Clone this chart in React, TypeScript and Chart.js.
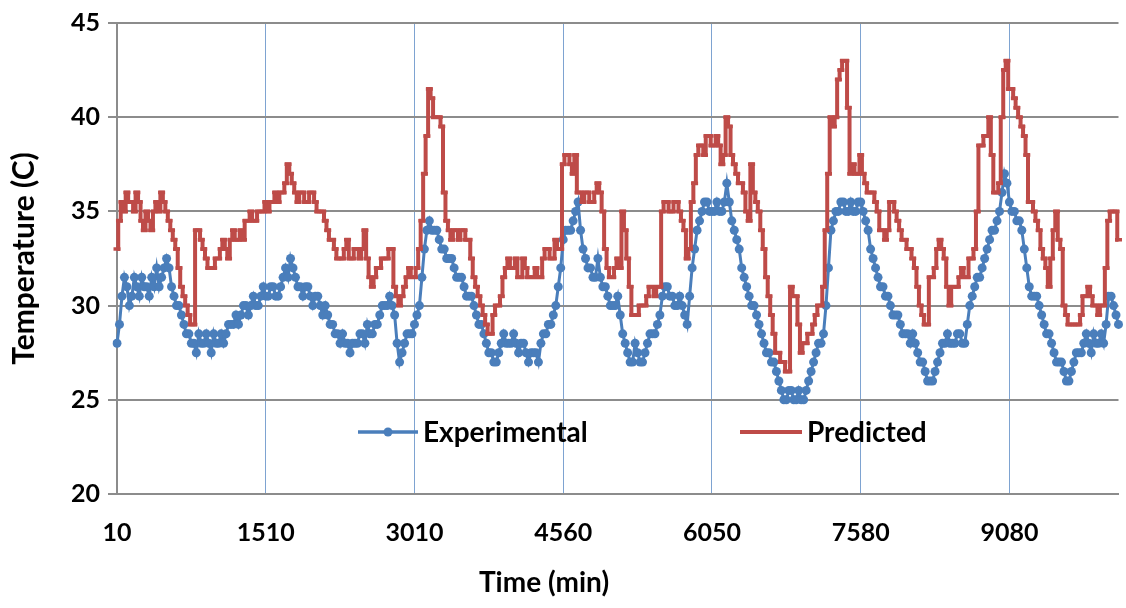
import React, { useEffect, useRef } from 'react';
import { Chart, registerables } from 'chart.js';

Chart.register(...registerables);

// x-axis tick labels (time in minutes), one every `pointsPerLabel` samples
const tickLabels = ['10', '1510', '3010', '4560', '6050', '7580', '9080'];
const pointsPerLabel = 60;

// Experimental temperature (C)
const experimental = [
  28, 29, 30.5, 31.5, 31, 30, 30.5, 31.5, 31, 30.5,
  31.5, 31, 31, 30.5, 31.5, 31, 32, 31, 31.5, 32,
  32.5, 32, 31, 30.5, 30, 30, 29.5, 29, 28.5, 28.5,
  28, 28, 27.5, 28.5, 28, 28, 28.5, 28, 27.5, 28.5,
  28, 28, 28.5, 28, 28.5, 29, 29, 29, 29.5, 29,
  29.5, 30, 30, 29.5, 30, 30.5, 30, 30, 30.5, 31,
  30.5, 30.5, 31, 31, 30.5, 30.5, 31, 31.5, 32, 31.5,
  32.5, 32, 31.5, 31, 31, 30.5, 31, 31, 30.5, 30,
  30.5, 30.5, 30, 29.5, 30, 29.5, 29, 29, 28.5, 28.5,
  28, 28.5, 28, 28, 27.5, 28, 28, 28, 28.5, 28.5,
  28, 29, 28.5, 28.5, 29, 29, 29.5, 30, 30, 30,
  30.5, 30, 29.5, 28, 27, 27.5, 28, 28.5, 28.5, 28.5,
  29, 29.5, 30, 31.5, 33, 34, 34.5, 34, 34, 34,
  33.5, 33, 33, 32.5, 32.5, 32.5, 32, 31.5, 31.5, 31.5,
  31, 30.5, 30.5, 30.5, 30, 29.5, 29, 29, 28.5, 28,
  27.5, 27.5, 27, 27, 27.5, 28, 28.5, 28, 28, 28,
  28.5, 28, 27.5, 28, 28, 27.5, 27, 27.5, 27.5, 27.5,
  27, 28, 28.5, 28.5, 29, 29, 29.5, 30, 31, 32,
  33.5, 34, 34, 34, 34.5, 35, 35.5, 34, 33, 32.5,
  32, 32, 31.5, 31.5, 32.5, 31.5, 31, 31, 30.5, 30,
  30, 30, 30.5, 29.5, 28.5, 28, 27.5, 27, 27, 28,
  27.5, 27, 27, 27.5, 28, 28.5, 28.5, 28.5, 29, 29.5,
  30.5, 31, 31, 30.5, 30.5, 30, 30, 30.5, 30, 29.5,
  29, 30.5, 32, 33, 34, 34.5, 35, 35.5, 35.5, 35,
  35, 35, 35.5, 35, 35, 35.5, 36.5, 35.5, 34.5, 34,
  33.5, 33, 32, 31.5, 31, 30.5, 30, 30, 29.5, 29,
  28.5, 28, 27.5, 27.5, 27, 27, 26.5, 26, 25.5, 25,
  25, 25.5, 25.5, 25, 25, 25.5, 25, 25, 25.5, 26,
  26.5, 27, 27.5, 28, 28, 28.5, 30, 32, 34, 34.5,
  35, 35, 35.5, 35.5, 35, 35, 35.5, 35, 35, 35.5,
  35.5, 35, 34.5, 34, 33, 32.5, 32, 31.5, 31, 31,
  30.5, 30.5, 30, 29.5, 29.5, 29.5, 29, 28.5, 28.5, 28.5,
  28, 28.5, 28, 27.5, 27, 27, 26.5, 26, 26, 26,
  26.5, 27, 27.5, 28, 28, 28.5, 28, 28, 28, 28.5,
  28.5, 28, 28, 29, 30, 30.5, 31, 31.5, 31.5, 32,
  32.5, 33, 33.5, 34, 34, 34.5, 35, 36, 37, 36.5,
  35.5, 35, 35, 34.5, 34.5, 34, 33, 32, 31, 30.5,
  30.5, 30.5, 30, 29.5, 29, 28.5, 28.5, 28, 27.5, 27,
  27, 27, 26.5, 26, 26, 26.5, 27, 27.5, 27.5, 27.5,
  28, 28.5, 28, 27.5, 28.5, 28, 28, 28.5, 28, 29,
  30.5, 30.5, 30, 29.5, 29,
];

// Predicted temperature (C)
const predicted = [
  33, 34.5, 35.5, 35, 36, 35.5, 35.5, 35, 36, 35.5,
  34.5, 34, 35, 34.5, 34, 35, 35.5, 35, 36, 35.5,
  35, 34.5, 34, 33.5, 33, 32, 31, 30.5, 30, 29.5,
  29, 29, 34, 34, 33.5, 33, 32.5, 32, 32, 32,
  32.5, 32.5, 33, 33.5, 33, 32.5, 33.5, 34, 33.5, 33.5,
  34, 33.5, 34.5, 34.5, 35, 34.5, 34.5, 35, 35, 35,
  35.5, 35, 35.5, 35.5, 36, 35.5, 36, 36, 36.5, 37.5,
  37, 36.5, 36, 35.5, 36, 36, 35.5, 35.5, 36, 36,
  35.5, 35, 35, 35, 34.5, 34, 33.5, 33.5, 33, 32.5,
  32.5, 32.5, 33, 33.5, 32.5, 32.5, 33, 33, 32.5, 33,
  34, 32.5, 31.5, 31, 31.5, 32, 32, 32.5, 32.5, 32.5,
  33, 33, 31, 30.5, 30, 30.5, 31, 31.5, 32, 31.5,
  31.5, 32, 33, 34.5, 37, 39, 41.5, 41, 40, 40,
  40, 39.5, 36, 34.5, 34, 33.5, 34, 34, 33.5, 34,
  34, 33.5, 33.5, 32.5, 31.5, 31, 30.5, 30, 29.5, 29,
  28.5, 28.5, 29.5, 30, 30, 30.5, 31.5, 32, 32.5, 32,
  32, 32.5, 31.5, 31.5, 32.5, 32, 31.5, 31.5, 31.5, 32,
  31.5, 31.5, 32.5, 33, 33, 32.5, 32.5, 33.5, 33, 33,
  37.5, 38, 38, 37.5, 37, 38, 36, 36, 35.5, 36,
  36, 35.5, 35.5, 36, 36.5, 36, 35, 33, 32, 31.5,
  31.5, 32, 32.5, 32, 35, 34, 32.5, 31, 29.5, 29.5,
  29.5, 30, 30, 30, 30.5, 31, 31, 30.5, 31, 31,
  35, 35.5, 35.5, 35, 35, 35.5, 35.5, 35, 34.5, 34,
  32.5, 33, 35.5, 36.5, 38, 38.5, 38.5, 38, 39, 39,
  38.5, 38.5, 39, 38.5, 37.5, 38, 40, 39.5, 38, 37.5,
  37, 36.5, 36.5, 36, 35, 34.5, 37.5, 36, 35.5, 35,
  34, 33, 31.5, 30.5, 29.5, 28.5, 27.5, 27.5, 27, 27,
  26.5, 26.5, 31, 30.5, 30.5, 29, 27.5, 28, 28, 28.5,
  28.5, 29, 29.5, 30, 30, 31, 34, 37, 40, 39.5,
  40, 42, 42.5, 43, 43, 40.5, 37, 37.5, 37, 37,
  38, 37, 36.5, 36, 36, 36, 35.5, 35, 34, 34,
  33.5, 34, 35.5, 35.5, 35, 34.5, 34, 33.5, 33.5, 33,
  33, 32.5, 32, 31, 30, 29.5, 29, 29, 31.5, 31.5,
  32, 33, 33.5, 33, 32.5, 31, 30, 31, 31, 31,
  31.5, 32, 31.5, 31.5, 32.5, 32.5, 33, 35, 38.5, 38.5,
  39, 39, 40, 38, 36, 36, 36.5, 40, 42.5, 43,
  41.5, 41.5, 41, 40.5, 40, 39.5, 39, 38, 35.5, 35.5,
  35, 34.5, 34, 33, 32.5, 32, 31, 32.5, 34, 35,
  33.5, 33, 30, 29.5, 29, 29, 29, 29, 29, 29.5,
  30.5, 30.5, 31, 30.5, 30, 30, 29.5, 30, 30, 32,
  34.5, 35, 35, 35, 33.5,
];

const BLUE = '#4a7ebb';
const RED = '#be4b48';
const GRID = '#8c8c8c';
const VGRID = '#7ea3d1';
const FONT = 'Lato';

export default function App() {
  const canvasRef = useRef<HTMLCanvasElement>(null);

  useEffect(() => {
    if (!canvasRef.current) return;
    const labels = experimental.map((_, i) =>
      i % pointsPerLabel === 0 && tickLabels[i / pointsPerLabel] !== undefined
        ? tickLabels[i / pointsPerLabel]
        : ''
    );

    const overlay = {
      id: 'overlay',
      afterDraw(chart: any) {
        const ctx = chart.ctx as CanvasRenderingContext2D;
        ctx.save();
        ctx.font = `bold 28px ${FONT}`;
        ctx.fillStyle = '#000';
        ctx.textBaseline = 'middle';
        ctx.textAlign = 'left';
        const ly = 432;
        // Experimental legend entry
        ctx.strokeStyle = BLUE;
        ctx.lineWidth = 3.5;
        ctx.beginPath();
        ctx.moveTo(358, ly);
        ctx.lineTo(418, ly);
        ctx.stroke();
        ctx.fillStyle = BLUE;
        ctx.beginPath();
        ctx.arc(388, ly, 4.5, 0, Math.PI * 2);
        ctx.fill();
        ctx.fillStyle = '#000';
        ctx.fillText('Experimental', 423, ly + 1);
        // Predicted legend entry
        ctx.strokeStyle = RED;
        ctx.lineWidth = 4;
        ctx.beginPath();
        ctx.moveTo(740, ly);
        ctx.lineTo(802, ly);
        ctx.stroke();
        ctx.fillText('Predicted', 807, ly + 1);
        // x-axis title
        ctx.textAlign = 'center';
        ctx.fillText('Time (min)', 544, 583);
        ctx.restore();
      },
    };

    const chart = new Chart(canvasRef.current, {
      type: 'line',
      data: {
        labels,
        datasets: [
          {
            label: 'Experimental',
            data: experimental,
            borderColor: BLUE,
            backgroundColor: BLUE,
            borderWidth: 3,
            pointRadius: 4.5,
            pointBorderWidth: 0,
            pointBackgroundColor: BLUE,
            pointStyle: 'circle',
            order: 1,
          },
          {
            label: 'Predicted',
            data: predicted,
            borderColor: RED,
            backgroundColor: RED,
            borderWidth: 4,
            stepped: 'middle',
            pointRadius: 3.5,
            pointStyle: 'line',
            pointBorderWidth: 3.5,
            pointBorderColor: RED,
            order: 0,
          },
        ],
      },
      options: {
        animation: false,
        responsive: true,
        maintainAspectRatio: false,
        layout: { padding: { top: 22, left: 0, right: 0, bottom: 0 } },
        plugins: {
          legend: { display: false },
          tooltip: { enabled: false },
          title: { display: false },
        },
        scales: {
          x: {
            type: 'category',
            offset: false,
            grid: {
              color: (c: any) => (c.index === 0 ? 'rgba(0,0,0,0)' : VGRID),
              lineWidth: 1,
              drawTicks: false,
            },
            border: { display: true, color: GRID, width: 2 },
            ticks: {
              autoSkip: false,
              maxRotation: 0,
              minRotation: 0,
              padding: 24,
              color: '#000',
              font: { family: FONT, size: 25, weight: 'bold' },
              callback: (_v: any, i: number) => (labels[i] ? labels[i] : null),
            },
            afterFit: (scale: any) => {
              scale.height = 114;
            },
          },
          y: {
            min: 20,
            max: 45,
            ticks: {
              stepSize: 5,
              padding: 8,
              color: '#000',
              font: { family: FONT, size: 25, weight: 'bold' },
            },
            grid: { color: GRID, lineWidth: 2, tickLength: 9, tickColor: GRID },
            border: { display: true, color: GRID, width: 2 },
            title: {
              display: true,
              text: 'Temperature (C)',
              color: '#000',
              font: { family: FONT, size: 30, weight: 'bold' },
              padding: { top: 6, bottom: 0 },
            },
            afterFit: (scale: any) => {
              scale.width = 117;
            },
          },
        },
      },
      plugins: [overlay],
    });

    return () => chart.destroy();
  }, []);

  return (
    <div style={{ position: 'absolute', left: 0, top: 0, width: 1126, height: 608, background: '#fff' }}>
      <canvas ref={canvasRef} />
    </div>
  );
}
